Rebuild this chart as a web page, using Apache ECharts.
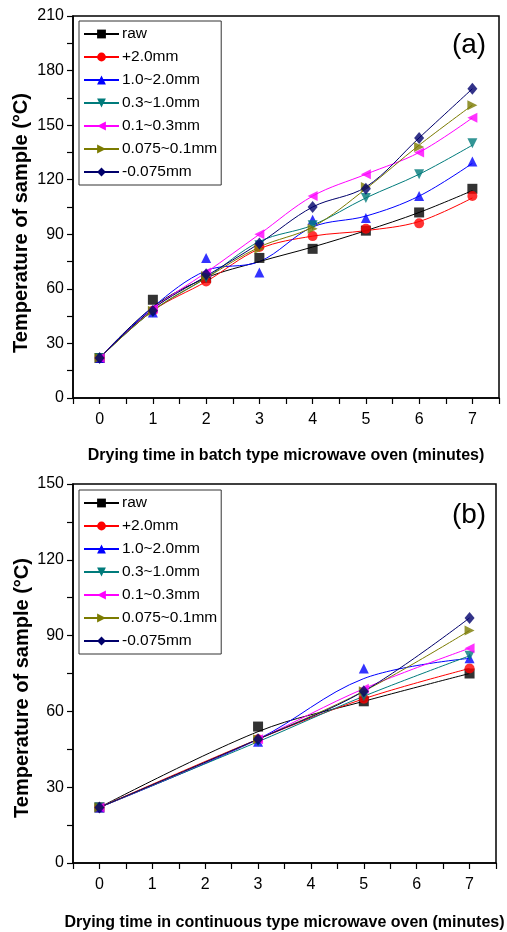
<!DOCTYPE html>
<html>
<head>
<meta charset="utf-8">
<script src="https://cdn.jsdelivr.net/npm/echarts@6/dist/echarts.min.js"></script>
<style>
  html, body { margin: 0; padding: 0; background: #fff; }
  #chart { width: 507px; height: 932px; }
</style>
</head>
<body>
<div id="chart"></div>
<script>
// series names and styles
const names = ['raw', '+2.0mm', '1.0~2.0mm', '0.3~1.0mm', '0.1~0.3mm', '0.075~0.1mm', '-0.075mm'];
const colors = ['#000000', '#ff0000', '#0000ff', '#007b7b', '#ff00ff', '#7b7b00', '#00006b'];
const symbols = [
  'rect',
  'circle',
  'triangle',
  'path://M0,0L10,0L5,9Z',
  'path://M9,0L9,10L0,5Z',
  'path://M0,0L0,10L9,5Z',
  'diamond'
];

// (a) batch type oven: x = 0..7 minutes
const timeA = [0, 1, 2, 3, 4, 5, 6, 7];
const pointsA = [
  [22, 54, 66, 77, 82, 92, 102, 115],
  [22, 48, 64, 83, 89, 93, 96, 111],
  [22, 47, 77, 69, 98, 99, 111, 130],
  [22, 47, 66, 84, 95, 110, 123, 140],
  [22, 49, 69, 90, 111, 123, 135, 154],
  [22, 48, 67, 82, 93, 116, 138, 161],
  [22, 48, 68, 85, 105, 115, 143, 170]
];
// fitted curve values at the same x
const curveA = [
  [22, 50, 66, 75, 83, 92, 102, 114],
  [22, 48, 64, 82, 89, 92, 97, 110],
  [22, 50, 70, 75, 94, 100, 111, 129],
  [22, 48, 66, 86, 95, 110, 123, 139],
  [22, 49, 69, 90, 111, 123, 135, 154],
  [22, 48, 66, 83, 94, 115, 139, 161],
  [22, 49, 67, 85, 105, 116, 143, 170]
];

// (b) continuous type oven: x = 0, 3, 5, 7 minutes
const timeB = [0, 3, 5, 7];
const pointsB = [
  [22, 54, 64, 75],
  [22, 49, 65, 77],
  [22, 48, 77, 81],
  [22, 48, 66, 82],
  [22, 49, 69, 85],
  [22, 49, 68, 92],
  [22, 49, 68, 97]
];
const curveB = [
  [22, 52, 64, 75],
  [22, 49, 65, 77],
  [22, 49, 73, 81],
  [22, 48, 66, 82],
  [22, 49, 69, 85],
  [22, 49, 68, 92],
  [22, 49, 68, 97]
];

const xTicks = [0, 1, 2, 3, 4, 5, 6, 7];
const yTicksA = [0, 30, 60, 90, 120, 150, 180, 210];
const yTicksB = [0, 30, 60, 90, 120, 150];

const chart = echarts.init(document.getElementById('chart'));

const labelFont = { color: '#000', fontSize: 16, fontFamily: 'Liberation Sans, Arial, sans-serif' };

function xAxisFor(gridIndex, name, gap) {
  return {
    type: 'value', gridIndex, min: -0.5, max: 7.5, interval: 0.5,
    axisLine: { lineStyle: { color: '#000', width: 1.5 } },
    axisTick: { length: 6, lineStyle: { color: '#000', width: 1.2 } },
    axisLabel: Object.assign({ margin: 14,
      formatter: v => xTicks.includes(v) ? String(v) : '' }, labelFont),
    splitLine: { show: false },
    name, nameLocation: 'middle', nameGap: gap,
    nameTextStyle: { color: '#000', fontSize: 16, fontWeight: 'bold', fontFamily: 'Liberation Sans, Arial, sans-serif' }
  };
}
function yAxisFor(gridIndex, max, ticks) {
  return {
    type: 'value', gridIndex, min: 0, max, interval: 15,
    axisLine: { show: true, onZero: false, lineStyle: { color: '#000', width: 1.5 } },
    axisTick: { show: true, length: 6, lineStyle: { color: '#000', width: 1.2 } },
    axisLabel: Object.assign({ margin: 9,
      formatter: v => ticks.includes(v) ? String(v) : '' }, labelFont),
    splitLine: { show: false }
  };
}

const series = [];
function addPanel(gridIndex, times, points, curve) {
  names.forEach((n, i) => {
    series.push({
      name: n, type: 'line', xAxisIndex: gridIndex, yAxisIndex: gridIndex,
      data: times.map((t, k) => [t, curve[i][k]]),
      smooth: 0.35, symbol: symbols[i], symbolSize: 10, showSymbol: false,
      lineStyle: { color: colors[i], width: 1 }, itemStyle: { color: colors[i] },
      emphasis: { disabled: true }, z: 2
    });
    series.push({
      name: n, type: 'scatter', xAxisIndex: gridIndex, yAxisIndex: gridIndex,
      data: times.map((t, k) => [t, points[i][k]]),
      symbol: symbols[i], symbolSize: i === 6 ? [10, 12] : 10,
      itemStyle: { color: colors[i] },
      emphasis: { disabled: true }, z: 3
    });
  });
}
addPanel(0, timeA, pointsA, curveA);
addPanel(1, timeB, pointsB, curveB);

function legendFor(top) {
  return {
    data: names, orient: 'vertical', left: 79, top: top,
    itemWidth: 35, itemHeight: 11, itemGap: 5,
    padding: [4, 4, 4, 4],
    borderColor: '#333', borderWidth: 1,
    textStyle: { color: '#000', fontSize: 15.5, lineHeight: 18, fontFamily: 'Liberation Sans, Arial, sans-serif', padding: [0, 0, 0, -2] },
    selectedMode: false
  };
}

const yTitleStyle = { text: 'Temperature of sample (°C)', fill: '#000', font: 'bold 20px "Liberation Sans", Arial, sans-serif', textAlign: 'center', textVerticalAlign: 'middle' };

chart.setOption({
  animation: false,
  backgroundColor: '#fff',
  grid: [
    { left: 73, top: 16, width: 426, height: 382, show: true, borderColor: '#000', borderWidth: 1.5 },
    { left: 73, top: 484, width: 423, height: 380, show: true, borderColor: '#000', borderWidth: 1.5 }
  ],
  xAxis: [
    xAxisFor(0, 'Drying time in batch type microwave oven (minutes)', 50),
    xAxisFor(1, 'Drying time in continuous type microwave oven (minutes)', 52)
  ],
  yAxis: [yAxisFor(0, 210, yTicksA), yAxisFor(1, 150, yTicksB)],
  legend: [legendFor(21), legendFor(490)],
  graphic: [
    { type: 'text', x: 21, y: 223, rotation: Math.PI / 2, style: yTitleStyle },
    { type: 'text', x: 22, y: 688, rotation: Math.PI / 2, style: yTitleStyle },
    { type: 'text', x: 469, y: 45, style: { text: '(a)', fill: '#000', font: '28px "Liberation Sans", Arial, sans-serif', textAlign: 'center', textVerticalAlign: 'middle' } },
    { type: 'text', x: 469, y: 515, style: { text: '(b)', fill: '#000', font: '28px "Liberation Sans", Arial, sans-serif', textAlign: 'center', textVerticalAlign: 'middle' } }
  ],
  series
});
</script>
</body>
</html>
